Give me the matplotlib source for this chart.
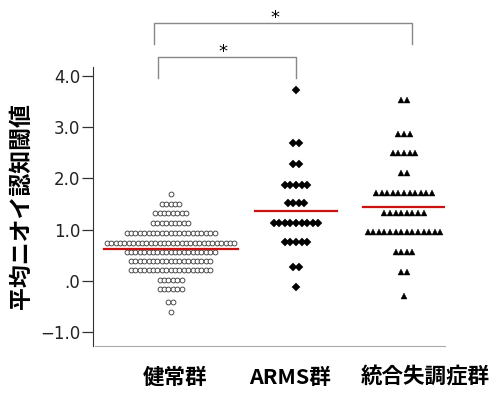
"""Dot plot of mean odor recognition threshold by group."""
import matplotlib.pyplot as plt
import numpy as np

# data: stacked dot rows (value, count per row)
groups = ["健常群", "ARMS群", "統合失調症群"]
healthy_vals = [1.70, 1.50, 1.33, 1.13, 0.94, 0.74, 0.57, 0.39, 0.21, 0.02, -0.16, -0.41, -0.60]
healthy_counts = [1, 5, 8, 9, 21, 30, 21, 19, 19, 6, 6, 2, 1]
arms_vals = [3.72, 2.69, 2.28, 1.87, 1.52, 1.13, 0.76, 0.27, -0.12]
arms_counts = [1, 2, 2, 5, 4, 9, 5, 2, 1]
sz_vals = [3.53, 2.87, 2.50, 2.11, 1.72, 1.33, 0.96, 0.57, 0.18, -0.29]
sz_counts = [2, 3, 5, 2, 11, 8, 14, 4, 2, 1]
group_means = [0.63, 1.37, 1.45]
yticks = [4.0, 3.0, 2.0, 1.0, 0.0, -1.0]
ytick_labels = ["4.0", "3.0", "2.0", "1.0", ".0", "\u22121.0"]
ylabel = "平均ニオイ認知閾値"

CJK = ["Noto Sans CJK JP", "DejaVu Sans"]

W, H = 500, 394
fig = plt.figure(figsize=(W / 100, H / 100), dpi=100)
# axes placed in pixel terms; x data units == pixels
ax_l, ax_r, ax_t, ax_b = 93, 445, 67, 346
ax = fig.add_axes([ax_l / W, 1 - ax_b / H, (ax_r - ax_l) / W, (ax_b - ax_t) / H])
ax.set_xlim(ax_l, ax_r)
ax.set_ylim(-1.267, 4.17)

centers = [170.5, 296, 404]
pitches = [4.4, 5.6, 5.6]
styles = [
    dict(marker="o", ms=3.5, mfc="white", mec="#333333", mew=0.6),
    dict(marker="D", ms=3.7, mfc="black", mec="black", mew=0.3),
    dict(marker="^", ms=4.4, mfc="black", mec="black", mew=0.3),
]
series = [(healthy_vals, healthy_counts), (arms_vals, arms_counts), (sz_vals, sz_counts)]

for (vals, counts), cx, p, st in zip(series, centers, pitches, styles):
    for v, n in zip(vals, counts):
        xs = cx + (np.arange(n) - (n - 1) / 2) * p
        ax.plot(xs, np.full(n, v), ls="none", **st)

half_w = [67, 41, 41]
for cx, hw, m in zip(centers, half_w, group_means):
    ax.plot([cx - hw, cx + hw], [m, m], color="#cc1111", lw=1.6)

for s in ["top", "right"]:
    ax.spines[s].set_visible(False)
ax.spines["left"].set_color("#333333")
ax.spines["bottom"].set_color("#aaaaaa")
ax.spines["bottom"].set_bounds(ax_l + 2, ax_r)

ax.set_yticks(yticks)
ax.set_yticklabels(ytick_labels, fontsize=12, color="#222222")
ax.tick_params(axis="y", direction="out", length=8, width=0.9, color="#333333", pad=1)

ax.set_xticks([175.5, 289.5, 425])
ax.set_xticklabels(groups, family=CJK, fontsize=15.5, fontweight="bold")
ax.tick_params(axis="x", length=0, pad=15)

fig.text(21 / W, 1 - 206 / H, ylabel, rotation=90, ha="center", va="center",
         family=CJK, fontsize=16.5, fontweight="bold")

# significance brackets
bc = "#888888"
ax.plot([154, 154, 412, 412], [4.62, 5.02, 5.02, 4.62], color=bc, lw=1.0, clip_on=False)
ax.plot([158, 158, 296, 296], [3.96, 4.36, 4.36, 3.96], color=bc, lw=1.0, clip_on=False)
ax.text(275, 5.12, "*", ha="center", va="center", fontsize=13, clip_on=False)
ax.text(223, 4.47, "*", ha="center", va="center", fontsize=13, clip_on=False)

fig.savefig("out.png", dpi=100)
